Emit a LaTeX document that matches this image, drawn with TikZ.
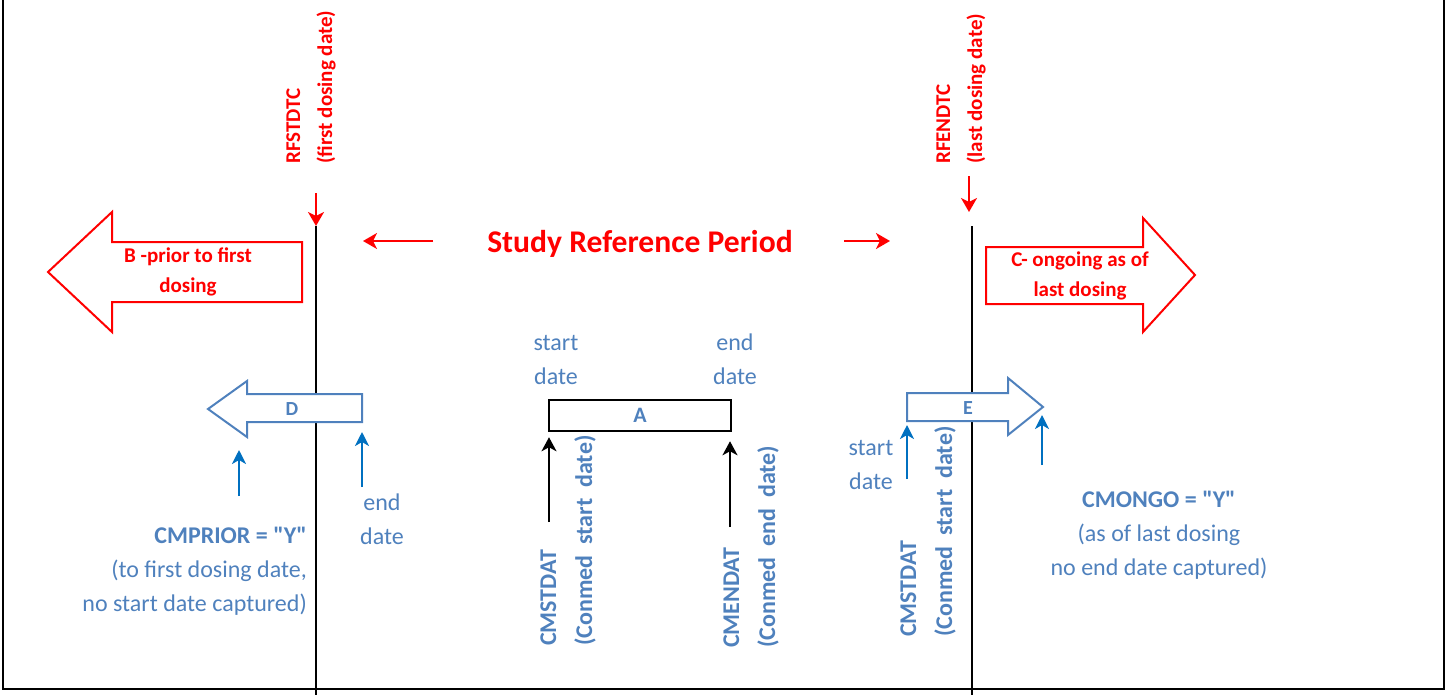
\documentclass[tikz,border=0pt]{standalone}
\usepackage{fontspec}
\setmainfont{Carlito}[Ligatures=TeXOff]
\usetikzlibrary{arrows.meta}
\definecolor{rot}{HTML}{FF0000}
\definecolor{blau}{HTML}{4F81BD}
\definecolor{pfeil}{HTML}{0070C0}

\begin{document}
\begin{tikzpicture}[
        x=1pt, y=-1pt, % координаты в пикселях, ось y вниз
        rlab/.style = {text=rot, font=\bfseries\fontsize{21}{30}\selectfont, align=center, inner sep=0pt}, % красные подписи
        rvert/.style = {text=rot, font=\bfseries\fontsize{21}{32}\selectfont, rotate=90, anchor=west, align=left, inner sep=0pt},
        blab/.style = {text=blau, font=\fontsize{24}{34}\selectfont, align=center, inner sep=0pt}, % синие подписи
        bvert/.style = {text=blau, font=\bfseries\fontsize{24}{36}\selectfont, rotate=90, anchor=west, align=left, inner sep=0pt},
        bletter/.style = {text=blau, font=\bfseries\fontsize{20}{24}\selectfont, inner sep=0pt},
        rpil/.style = {draw=rot, line width=2.2pt, -{Stealth[length=14pt, width=16pt, inset=4pt]}}, % красные стрелки
        bpil/.style = {draw=pfeil, line width=2.5pt, -{Stealth[length=14pt, width=14pt, inset=4pt]}}, % синие стрелки
        spil/.style = {draw=black, line width=2.2pt, -{Stealth[length=14pt, width=15pt, inset=4pt]}}, % черные стрелки
        block/.style = {line width=2pt, fill=white, line join=miter}, % широкие стрелки
    ]

    \useasboundingbox (0,0) rectangle (1449,694);
    \draw[line width=2.5pt] (3,-3) -- (3,689) -- (1444,689) -- (1444,-3);

    % линии первого и последнего приема
    \coordinate (rfsttop) at (316,226);
    \coordinate (rfstbot) at (316,700);
    \coordinate (rfentop) at (972,226);
    \coordinate (rfenbot) at (972,700);
    \draw[line width=1.6pt] (rfsttop) -- (rfstbot);
    \draw[line width=1.6pt] (rfentop) -- (rfenbot);

    \node[rvert] (rfst) at (311,164) {RFSTDTC\\(first dosing date)};
    \node[rvert] (rfen) at (961,164) {RFENDTC\\(last dosing date)};
    \coordinate (rfstpil) at (316,193);
    \coordinate (rfenpil) at (969,176);
    \draw[rpil] (rfstpil) -- (rfsttop);
    \draw[rpil] (rfenpil) -- (969,212) coordinate (rfenend);

    % период
    \node[text=rot, font=\bfseries\fontsize{31.6}{36}\selectfont, inner sep=0pt] (srp) at (640,244) {Study Reference Period};
    \coordinate (srpl) at (433,241);
    \coordinate (srpr) at (844,241);
    \draw[rpil] (srpl) -- (363,241) coordinate (srplend);
    \draw[rpil] (srpr) -- (890,241) coordinate (srprend);

    % B и C
    \draw[block, draw=rot] (302,242) -- (112,242) -- (112,212) -- (48,272) -- (112,332) -- (112,302) -- (302,302) -- cycle;
    \node[rlab] (btxt) at (188,272) {B -prior to first\\dosing};
    \draw[block, draw=rot] (986,247) -- (1143,247) -- (1143,218) -- (1195,275) -- (1143,332) -- (1143,304) -- (986,304) -- cycle;
    \node[rlab] (ctxt) at (1080,276) {C- ongoing as of\\last dosing};

    % A
    \node[draw=black, line width=2.5pt, minimum width=182pt, minimum height=31pt, bletter, font=\bfseries\fontsize{22}{24}\selectfont] (A) at (640,415.5) {A};
    \node[blab] (astart) at (556,360) {start\\date};
    \node[blab] (aend) at (735,359) {end\\date};
    \coordinate (cmst) at (549,522);
    \coordinate (cmen) at (730,527);
    \draw[spil, shorten >=5pt] (cmst) -- (cmst |- A.south);
    \draw[spil, shorten >=9pt] (cmen) -- (cmen |- A.south);
    \node[bvert] (cmstlab) at (568,646) {CMSTDAT\\(Conmed\ \ start\ \ date)};
    \node[bvert] (cmenlab) at (751,648) {CMENDAT\\(Conmed\ \ end\ \ date)};

    % D
    \draw[block, draw=blau] (362,394) -- (247,394) -- (247,381) -- (208,409) -- (247,437) -- (247,422) -- (362,422) -- cycle;
    \node[bletter] (D) at (292,409) {D};
    \coordinate (d1) at (239,496);
    \coordinate (d2) at (362,487);
    \draw[bpil] (d1) -- (239,450) coordinate (d1end);
    \draw[bpil] (d2) -- (362,432) coordinate (d2end);
    \node[blab] (dend) at (382,519) {end\\date};
    \node[blab, align=right, anchor=east] (prior) at (307,571) {\textbf{CMPRIOR = "Y"}\\(to first dosing date,\\no start date captured)};

    % E
    \draw[block, draw=blau] (907,393) -- (1008,393) -- (1008,378) -- (1043,407) -- (1008,435) -- (1008,421) -- (907,421) -- cycle;
    \node[bletter] (E) at (968,408) {E};
    \coordinate (e1) at (907,479);
    \coordinate (e2) at (1042,465);
    \draw[bpil] (e1) -- (907,425) coordinate (e1end);
    \draw[bpil] (e2) -- (1042,415) coordinate (e2end);
    \node[blab] (estart) at (871,465) {start\\date};
    \node[bvert] (cmstlabe) at (928,637) {CMSTDAT\\(Conmed\ \ start\ \ date)};
    \node[blab] (ongo) at (1159,535) {\textbf{CMONGO = "Y"}\\(as of last dosing\\no end date captured)};
\end{tikzpicture}
\end{document}
